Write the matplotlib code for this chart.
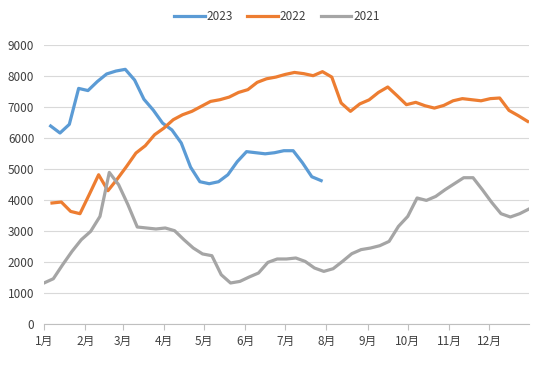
import matplotlib
matplotlib.use("Agg")
import matplotlib.pyplot as plt
import numpy as np

plt.rcParams['font.family'] = ['Noto Sans CJK SC', 'DejaVu Sans']

# weekly (Friday) readings, x = day of year
start_2023 = 5
vals_2023 = [6387, 6161, 6440, 7600, 7530, 7820, 8065, 8160, 8215, 7870,
             7250, 6900, 6480, 6260, 5840, 5060, 4590, 4525, 4590, 4815,
             5235, 5560, 5525, 5490, 5525, 5590, 5590, 5200, 4750, 4625]

start_2022 = 6
vals_2022 = [3903, 3935, 3632, 3558, 4180, 4815, 4300, 4677, 5085, 5515,
             5750, 6105, 6320, 6590, 6750, 6860, 7020, 7180, 7235, 7320,
             7470, 7560, 7795, 7910, 7965, 8050, 8115, 8075, 8010, 8140,
             7965, 7130, 6860, 7100, 7230, 7470, 7645, 7365, 7075, 7150,
             7040, 6965, 7050, 7200, 7270, 7235, 7200, 7270, 7290, 6890,
             6720, 6535]

start_2021 = 0
vals_2021 = [1323, 1460, 1913, 2342, 2720, 2987, 3470, 4890, 4494, 3848,
             3129, 3097, 3065, 3097, 3010, 2720, 2452, 2260, 2203, 1590,
             1323, 1374, 1516, 1645, 1987, 2097, 2097, 2129, 2019, 1806,
             1697, 1784, 2019, 2268, 2400, 2450, 2526, 2665, 3148, 3471,
             4065, 3987, 4116, 4332, 4526, 4719, 4719, 4332, 3923, 3558,
             3452, 3558, 3710]

month_days = [0, 31, 59, 90, 120, 151, 181, 212, 243, 273, 304, 334]
month_labels = [f"{m}月" for m in range(1, 13)]

series = [
    ("2023", start_2023, vals_2023, "#5B9BD5"),
    ("2022", start_2022, vals_2022, "#ED7D31"),
    ("2021", start_2021, vals_2021, "#A5A5A5"),
]

fig = plt.figure(figsize=(5.48, 3.72), dpi=100)
ax = fig.add_axes([44 / 548, 1 - 324 / 372, 485 / 548, 279 / 372])

for name, start, vals, color in series:
    x = start + 7 * np.arange(len(vals))
    ax.plot(x, vals, color=color, lw=2.3, label=name, solid_joinstyle='round')

ax.set_xlim(0, 364)
ax.set_ylim(0, 9000)
ax.set_yticks(np.arange(0, 9001, 1000))
ax.set_xticks(month_days)
ax.set_xticklabels(month_labels)
ax.grid(axis='y', color='#D9D9D9', lw=0.8)
ax.set_axisbelow(True)
for s in ['top', 'right', 'left']:
    ax.spines[s].set_visible(False)
ax.spines['bottom'].set_color('#BFBFBF')
ax.tick_params(axis='y', length=0, labelsize=8.5, pad=7)
ax.tick_params(axis='x', length=4, width=0.8, color='#BFBFBF',
               labelsize=8.5, pad=4)
for lbl in ax.get_xticklabels() + ax.get_yticklabels():
    lbl.set_color('#404040')

leg = fig.legend(loc='center', bbox_to_anchor=(277 / 548, 1 - 17 / 372), ncol=3,
                 frameon=False, fontsize=8.5, handlelength=2.6, columnspacing=1.2,
                 handletextpad=0.15)
for t in leg.get_texts():
    t.set_color('#404040')

fig.savefig("out.png", dpi=100)
